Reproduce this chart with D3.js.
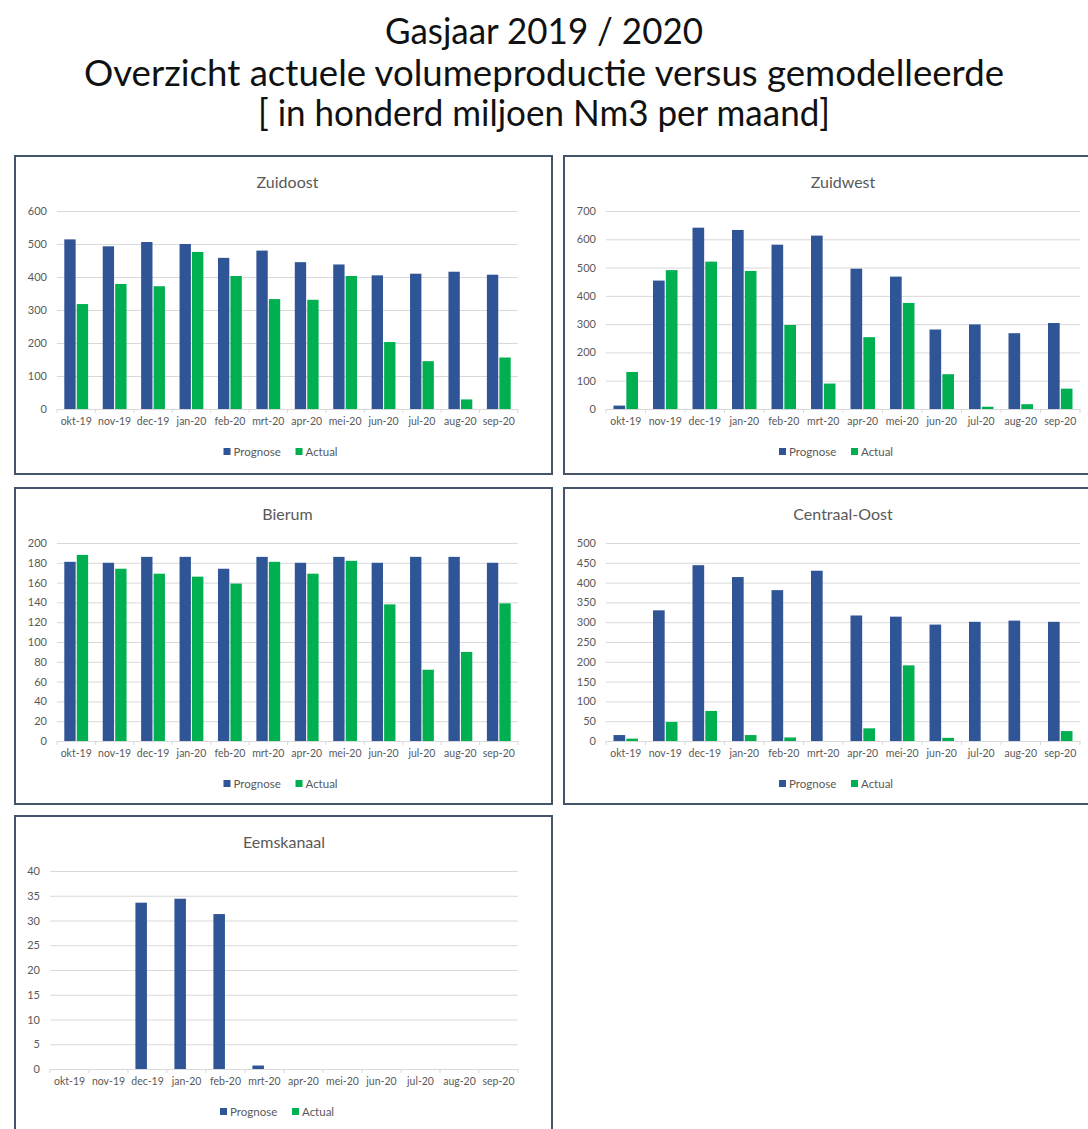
<!DOCTYPE html>
<html>
<head>
<meta charset="utf-8">
<script src="https://cdn.jsdelivr.net/npm/d3@7"></script>
<style>
  body { margin: 0; background: #fff; }
  svg text { font-family: Lato, "Open Sans", sans-serif; }
</style>
</head>
<body>
<div id="chart"></div>
<script>
// months of the gas year
let months = ["okt-19", "nov-19", "dec-19", "jan-20", "feb-20", "mrt-20",
              "apr-20", "mei-20", "jun-20", "jul-20", "aug-20", "sep-20"];
let seriesNames = ["Prognose", "Actual"];

// values
let zuidoostPrognose = [514, 493, 506, 500, 458, 480, 445, 438, 405, 410, 416, 407];
let zuidoostActual   = [318, 379, 372, 476, 403, 333, 331, 403, 203, 145, 29, 156];

let zuidwestPrognose = [12, 454, 641, 633, 581, 613, 496, 468, 281, 299, 268, 304];
let zuidwestActual   = [131, 491, 521, 488, 297, 90, 254, 375, 123, 8, 17, 72];

let bierumPrognose = [181, 180, 186, 186, 174, 186, 180, 186, 180, 186, 186, 180];
let bierumActual   = [188, 174, 169, 166, 159, 181, 169, 182, 138, 72, 90, 139];

let centraalPrognose = [15, 330, 444, 414, 381, 430, 317, 314, 294, 301, 304, 301];
let centraalActual   = [6, 48, 76, 15, 9, 0, 32, 191, 8, 0, 0, 25];

let eemsPrognose = [0, 0, 33.6, 34.4, 31.3, 0.7, 0, 0, 0, 0, 0, 0];
let eemsActual   = [0, 0, 0, 0, 0, 0, 0, 0, 0, 0, 0, 0];

// y-axis tick labels per panel
let zuidoostTicks = [0, 100, 200, 300, 400, 500, 600];
let zuidwestTicks = [0, 100, 200, 300, 400, 500, 600, 700];
let bierumTicks   = [0, 20, 40, 60, 80, 100, 120, 140, 160, 180, 200];
let centraalTicks = [0, 50, 100, 150, 200, 250, 300, 350, 400, 450, 500];
let eemsTicks     = [0, 5, 10, 15, 20, 25, 30, 35, 40];

let titleLines = ["Gasjaar 2019 / 2020",
                  "Overzicht actuele volumeproductie versus gemodelleerde",
                  "[ in honderd miljoen Nm3 per maand]"];

let colors = {Prognose: "#2f5597", Actual: "#00b050"};

let panels = [
    {name: "Zuidoost", prognose: zuidoostPrognose, actual: zuidoostActual, ticks: zuidoostTicks,
     box: {x: 15, y: 156, w: 537, h: 318}, plot: {left: 57, right: 518}},
    {name: "Zuidwest", prognose: zuidwestPrognose, actual: zuidwestActual, ticks: zuidwestTicks,
     box: {x: 564, y: 156, w: 560, h: 318}, plot: {left: 606, right: 1080}},
    {name: "Bierum", prognose: bierumPrognose, actual: bierumActual, ticks: bierumTicks,
     box: {x: 15, y: 488, w: 537, h: 316}, plot: {left: 57, right: 518}},
    {name: "Centraal-Oost", prognose: centraalPrognose, actual: centraalActual, ticks: centraalTicks,
     box: {x: 564, y: 488, w: 560, h: 316}, plot: {left: 606, right: 1080}},
    {name: "Eemskanaal", prognose: eemsPrognose, actual: eemsActual, ticks: eemsTicks,
     box: {x: 15, y: 816, w: 537, h: 340}, plot: {left: 50, right: 518}}
];

let width = 1088, height = 1129;

let svg = d3.select("#chart").append("svg")
    .attr("width", width)
    .attr("height", height);

// main title
let titleY = [44, 86, 126];
let titleLen = [318, 920, 572];
svg.selectAll(".main-title")
    .data(titleLines)
    .enter()
    .append("text")
    .attr("class", "main-title")
    .attr("x", width / 2)
    .attr("y", (d, i) => titleY[i])
    .attr("text-anchor", "middle")
    .attr("textLength", (d, i) => titleLen[i])
    .attr("lengthAdjust", "spacingAndGlyphs")
    .style("font-size", "36px")
    .style("fill", "#111")
    .text(d => d);

panels.forEach(function(p) {
    let g = svg.append("g");

    g.append("rect")
        .attr("x", p.box.x)
        .attr("y", p.box.y)
        .attr("width", p.box.w)
        .attr("height", p.box.h)
        .attr("fill", "#fff")
        .attr("stroke", "#44546a")
        .attr("stroke-width", 2);

    let top = p.box.y + 55;
    let bottom = p.box.y + 253;
    let mid = (p.plot.left + p.plot.right) / 2;

    g.append("text")
        .attr("x", mid)
        .attr("y", p.box.y + 32)
        .attr("text-anchor", "middle")
        .style("font-size", "16px")
        .style("fill", "#595959")
        .text(p.name);

    let x0 = d3.scaleBand()
        .domain(months)
        .range([p.plot.left, p.plot.right])
        .paddingInner(0)
        .paddingOuter(0);

    let groupW = x0.bandwidth() * 0.62;
    let x1 = d3.scaleBand()
        .domain(seriesNames)
        .range([0, groupW])
        .paddingInner(0.09);

    let y = d3.scaleLinear()
        .domain([0, d3.max(p.ticks)])
        .range([bottom, top]);

    // gridlines + tick labels
    let yAxis = g.append("g")
        .attr("transform", `translate(${p.plot.left},0)`)
        .call(d3.axisLeft(y).tickValues(p.ticks).tickSize(-(p.plot.right - p.plot.left)).tickPadding(10));
    yAxis.select(".domain").remove();
    yAxis.selectAll(".tick line").attr("stroke", "#d9d9d9").attr("stroke-width", 1);
    yAxis.selectAll(".tick text")
        .style("font-size", "11px")
        .style("fill", "#595959")
        .style("font-family", "Lato, sans-serif");

    // bars
    let rows = months.map((m, i) => ({month: m, Prognose: p.prognose[i], Actual: p.actual[i]}));
    g.append("g").selectAll("g")
        .data(rows)
        .enter()
        .append("g")
        .attr("transform", d => `translate(${x0(d.month) + (x0.bandwidth() - groupW) / 2},0)`)
        .selectAll("rect")
        .data(d => seriesNames.map(s => ({key: s, value: d[s]})))
        .enter()
        .append("rect")
        .attr("x", d => x1(d.key))
        .attr("width", x1.bandwidth())
        .attr("y", d => y(d.value))
        .attr("height", d => bottom - y(d.value))
        .attr("fill", d => colors[d.key]);

    // category axis
    let xAxis = g.append("g")
        .attr("transform", `translate(0,${bottom})`)
        .call(d3.axisBottom(x0).tickSize(0).tickPadding(9));
    xAxis.select(".domain").attr("stroke", "#d9d9d9");
    xAxis.selectAll(".tick text")
        .style("font-size", "10.5px")
        .style("fill", "#595959")
        .style("font-family", "Lato, sans-serif");

    // boundary tick marks between categories
    let edges = months.map(m => x0(m)).concat([p.plot.right]);
    g.append("g").selectAll("line")
        .data(edges)
        .enter()
        .append("line")
        .attr("x1", d => d).attr("x2", d => d)
        .attr("y1", bottom).attr("y2", bottom + 4)
        .attr("stroke", "#d9d9d9");

    // legend
    let legend = g.append("g")
        .attr("transform", `translate(${mid - 64},${p.box.y + 300})`);
    let legendX = [0, 72];
    seriesNames.forEach(function(s, i) {
        legend.append("rect")
            .attr("x", legendX[i])
            .attr("y", -8)
            .attr("width", 7)
            .attr("height", 7)
            .attr("fill", colors[s]);
        legend.append("text")
            .attr("x", legendX[i] + 10)
            .attr("y", 0)
            .style("font-size", "11.5px")
            .style("fill", "#595959")
            .text(s);
    });
});
</script>
</body>
</html>
